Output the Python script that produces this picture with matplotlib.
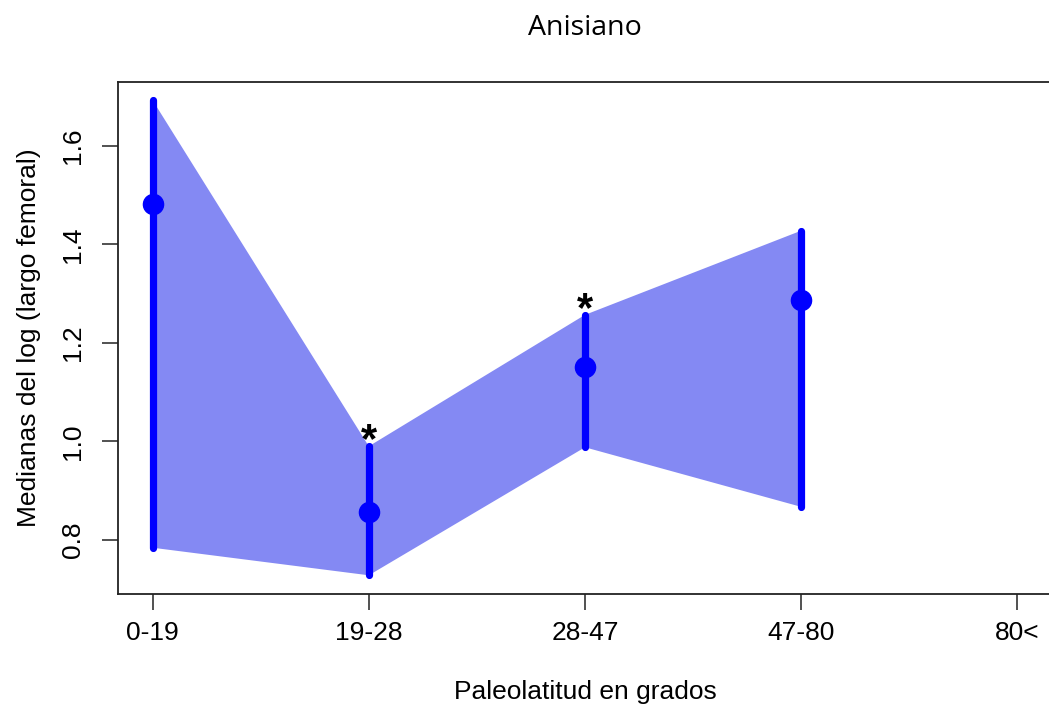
import numpy as np
import matplotlib.pyplot as plt

plt.rcParams['font.family'] = ['Liberation Sans', 'DejaVu Sans']

# data
grupos = ['0-19', '19-28', '28-47', '47-80', '80<']
medianas = [1.482, 0.857, 1.151, 1.287]
superior = [1.693, 0.990, 1.257, 1.428]
inferior = [0.784, 0.728, 0.988, 0.867]
signif = [False, True, True, False]

x = np.arange(1, len(medianas) + 1)
azul = '#0000ff'

fig = plt.figure(figsize=(10.49, 7.05), dpi=100)
W, H = 1049, 705
ax = fig.add_axes([118 / W, 1 - 594 / H, (1052 - 118) / W, (594 - 82) / H])

ax.fill(np.concatenate([x, x[::-1]]), np.concatenate([superior, inferior[::-1]]),
        color='#8489f3', lw=0, zorder=1)
ax.vlines(x, inferior, superior, color=azul, lw=5.2, capstyle='round', zorder=2)
ax.plot(x, medianas, 'o', color=azul, ms=14.5, zorder=3)
for xi, yi, s in zip(x, superior, signif):
    if s:
        ax.text(xi, yi - 0.012, '*', ha='center', va='baseline', fontsize=30,
                fontweight='bold', zorder=4)

ax.set_xlim(0.84, 5.16)
ax.set_ylim(0.69, 1.73)
ax.set_xticks(np.arange(1, len(grupos) + 1))
ax.set_xticklabels(grupos)
ax.set_yticks([0.8, 1.0, 1.2, 1.4, 1.6])
ax.set_yticklabels(['0.8', '1.0', '1.2', '1.4', '1.6'], rotation=90, va='center')
ax.tick_params(axis='both', length=11.5, width=1.1, labelsize=19, color='#222222')
ax.tick_params(axis='x', pad=8)
ax.tick_params(axis='y', pad=12)
for sp in ax.spines.values():
    sp.set_linewidth(1.3)
    sp.set_color('#222222')

ax.set_title('Anisiano', fontsize=20.5, pad=34, family=['Open Sans', 'DejaVu Sans'])
ax.set_xlabel('Paleolatitud en grados', fontsize=19, labelpad=25)
ax.set_ylabel('Medianas del log (largo femoral)', fontsize=19, labelpad=15)

fig.savefig('out.png', dpi=100)
